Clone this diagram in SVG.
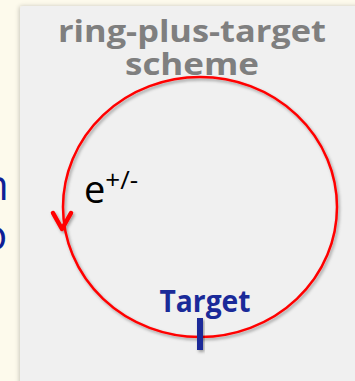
<svg xmlns="http://www.w3.org/2000/svg" width="355" height="381" viewBox="0 0 355 381">
<defs>
<filter id="sh" x="-20%" y="-20%" width="140%" height="140%">
<feDropShadow dx="1.5" dy="2" stdDeviation="1.5" flood-color="#000" flood-opacity="0.35"/>
</filter>
<filter id="psh" x="-10%" y="-10%" width="120%" height="120%">
<feDropShadow dx="-1" dy="0" stdDeviation="2" flood-color="#000" flood-opacity="0.2"/>
</filter>
</defs>
<style>
.title{font-family:"Open Sans","Liberation Sans",sans-serif;font-weight:bold;font-size:30px;fill:#7f7f7f;text-anchor:middle}
.side{font-family:"Open Sans","Liberation Sans",sans-serif;font-size:42px;fill:#0f1f96}
.ring{fill:none;stroke:#ff0000;stroke-width:2.5}
</style>
<rect x="0" y="0" width="355" height="381" fill="#fdfaec"/>
<text class="side" x="-17" y="200">n</text>
<text class="side" x="-18" y="250">o</text>
<g id="panel">
<rect x="20" y="6" width="345" height="390" rx="3" fill="#f0f0f0" filter="url(#psh)"/>
<text class="title" x="192" y="42" textLength="268" lengthAdjust="spacingAndGlyphs">ring-plus-target</text>
<text class="title" x="192" y="75" textLength="134" lengthAdjust="spacingAndGlyphs">scheme</text>
</g>
<g id="connectors" filter="url(#sh)">
<ellipse class="ring" cx="200" cy="207" rx="137" ry="130"/>
<polyline points="53,213 62,229 71,213" fill="none" stroke="#ff0000" stroke-width="4.5" stroke-linecap="round" stroke-linejoin="round"/>
</g>
<g id="particle">
<text x="84" y="203" font-family="'Open Sans','Liberation Sans',sans-serif" font-size="38" fill="#000">e<tspan font-size="26" dy="-14">+/-</tspan></text>
</g>
<g id="target">
<text x="205" y="312" font-family="'Open Sans','Liberation Sans',sans-serif" font-weight="bold" font-size="30" fill="#1a2a99" text-anchor="middle" textLength="91" lengthAdjust="spacingAndGlyphs">Target</text>
<rect x="197" y="318" width="6" height="32" fill="#1a2a99" filter="url(#sh)"/>
</g>
</svg>
